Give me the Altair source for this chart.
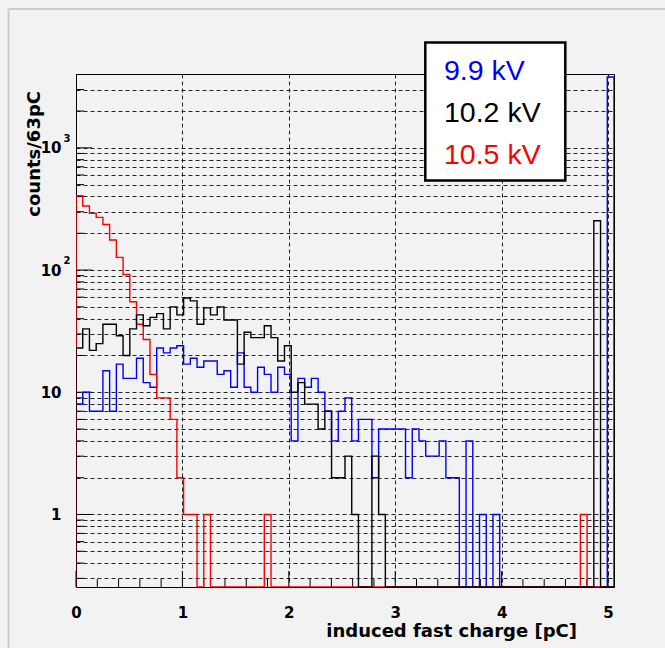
import altair as alt
import pandas as pd

# ---------------- data ----------------
BIN_WIDTH = 0.0632          # pC per bin ("counts/63pC")
N_BINS = 80
X_MAX = BIN_WIDTH * N_BINS
Y_MIN = 0.255
Y_MAX = 4020.0

series_labels = ["9.9 kV", "10.2 kV", "10.5 kV"]
series_colors = ["#0000ff", "#000000", "#ff0000"]

counts_9p9 = [8, 10, 7, 7, 15, 7, 17, 13, 13, 19,
              12, 11, 23, 21, 23, 24, 17, 19, 16, 18,
              18, 14, 15, 11, 21, 11, 10, 16, 14, 10,
              16, 14, 4, 13, 11, 13, 10, 7, 4, 7,
              9, 4, 6, 6, 2, 5, 5, 5, 5, 2,
              5, 4, 3, 3, 4, 2, 2, 0, 4, 0,
              1, 0, 1, 0, 0, 0, 0, 0, 0, 0,
              0, 0, 0, 0, 0, 0, 0, 0, 0, 3800]

counts_10p2 = [23, 33, 22, 25, 36, 36, 29, 20, 33, 43,
               35, 41, 44, 33, 50, 43, 59, 56, 36, 49,
               43, 50, 39, 39, 17, 31, 28, 28, 35, 28,
               18, 24, 10, 12, 8, 8, 5, 7, 2, 2,
               3, 1, 0, 0, 3, 1, 0, 0, 0, 0,
               0, 0, 0, 0, 0, 0, 0, 0, 0, 0,
               0, 0, 0, 0, 0, 0, 0, 0, 0, 0,
               0, 0, 0, 0, 0, 0, 0, 253, 0, 0]

counts_10p5 = [406, 334, 291, 270, 236, 176, 127, 92, 55, 36,
               27, 14, 9, 9, 6, 2, 1, 1, 0, 1,
               0, 0, 0, 0, 0, 0, 0, 0, 1, 0,
               0, 0, 0, 0, 0, 0, 0, 0, 0, 0,
               0, 0, 0, 0, 0, 0, 0, 0, 0, 0,
               0, 0, 0, 0, 0, 0, 0, 0, 0, 0,
               0, 0, 0, 0, 0, 0, 0, 0, 0, 0,
               0, 0, 0, 0, 0, 1, 0, 0, 0, 0]

x_tick_values = [0, 1, 2, 3, 4, 5]
x_minor_ticks = [0.2, 0.4, 0.6, 0.8, 1.2, 1.4, 1.6, 1.8, 2.2, 2.4, 2.6, 2.8,
                 3.2, 3.4, 3.6, 3.8, 4.2, 4.4, 4.6, 4.8]
y_grid_values = [0.3, 0.4, 0.5, 0.6, 0.7, 0.8, 0.9,
                 1, 2, 3, 4, 5, 6, 7, 8, 9,
                 10, 20, 30, 40, 50, 60, 70, 80, 90,
                 100, 200, 300, 400, 500, 600, 700, 800, 900,
                 1000, 2000, 3000]
y_major_values = [1, 10, 100, 1000]
y_superscripts = ["2", "3"]
y_superscript_at = [100, 1000]

x_title = "induced fast charge [pC]"
y_title = "counts/63pC"

W, H = 538, 513
AXIS_FONT = "DejaVu Sans"


def outline(counts):
    """ROOT-like histogram outline: (edge, count) step points."""
    xs, ys = [0.0], [Y_MIN]
    for k, c in enumerate(counts):
        v = c if c > 0 else Y_MIN
        xs += [k * BIN_WIDTH, (k + 1) * BIN_WIDTH]
        ys += [v, v]
    xs.append(N_BINS * BIN_WIDTH)
    ys.append(Y_MIN)
    return pd.DataFrame({"x": xs, "y": ys, "i": list(range(len(xs)))})


xscale = alt.Scale(domain=[0, X_MAX], nice=False, zero=False)
yscale = alt.Scale(type="log", domain=[Y_MIN, Y_MAX], nice=False)

x_axis = alt.Axis(values=x_tick_values, title=None, grid=True, gridDash=[4, 3],
                  gridColor="#000000", gridWidth=1, gridOpacity=0.85, ticks=False,
                  domain=False, labelFont=AXIS_FONT, labelFontWeight="bold",
                  labelFontSize=15, labelColor="#000000", labelPadding=30,
                  labelBaseline="alphabetic", labelFlush=False, labelOverlap=False)
y_axis = alt.Axis(values=y_grid_values, title=None, grid=True, gridDash=[4, 3],
                  gridColor="#000000", gridWidth=1, gridOpacity=0.85, ticks=False,
                  domain=False, labelFont=AXIS_FONT, labelFontWeight="bold",
                  labelFontSize=15, labelColor="#000000", labelPadding=15,
                  labelAlign="right", labelBaseline="middle", labelOverlap=False,
                  labelFlush=False, orient="left",
                  labelExpr="datum.value == 1 ? '1' : (datum.value == 10 || datum.value == 100 || datum.value == 1000) ? '10' : ''")

X = lambda f: alt.X(f, type="quantitative", scale=xscale, axis=x_axis)
Y = lambda f: alt.Y(f, type="quantitative", scale=yscale, axis=y_axis)

one = pd.DataFrame({"a": [0]})

# ticks drawn inside the frame (ROOT style)
xminor = alt.Chart(pd.DataFrame({"v": x_minor_ticks})).mark_rule(color="black").encode(
    x=X("v"), y=alt.value(H), y2=alt.value(H - 8))
xmajor = alt.Chart(pd.DataFrame({"v": x_tick_values})).mark_rule(color="black").encode(
    x=X("v"), y=alt.value(H), y2=alt.value(H - 16))
yminor_vals = [v for v in y_grid_values if v not in y_major_values]
yminor = alt.Chart(pd.DataFrame({"v": yminor_vals})).mark_rule(color="black").encode(
    y=Y("v"), x=alt.value(0), x2=alt.value(8))
ymajor = alt.Chart(pd.DataFrame({"v": y_major_values})).mark_rule(color="black").encode(
    y=Y("v"), x=alt.value(0), x2=alt.value(16))

sup = alt.Chart(pd.DataFrame({"v": y_superscript_at, "t": y_superscripts})).mark_text(
    align="left", baseline="alphabetic", dy=-6, font=AXIS_FONT, fontWeight="bold",
    fontSize=10, color="black").encode(y=Y("v"), x=alt.value(-12.5), text="t:N")

hist_layers = []
for counts, col in [(counts_9p9, series_colors[0]), (counts_10p5, series_colors[2]),
                    (counts_10p2, series_colors[1])]:
    hist_layers.append(
        alt.Chart(outline(counts)).mark_line(strokeWidth=1.4, clip=True, strokeJoin="miter")
        .encode(x=X("x"), y=Y("y"), order="i:Q", color=alt.value(col)))

# titles
ytitle = alt.Chart(one).mark_text(text=y_title, angle=270, align="right", baseline="alphabetic",
                                  font=AXIS_FONT, fontWeight="bold", fontSize=18,
                                  color="black").encode(x=alt.value(-36.5), y=alt.value(17))
xtitle = alt.Chart(one).mark_text(text=x_title, align="right", baseline="alphabetic",
                                  font=AXIS_FONT, fontWeight="bold", fontSize=18,
                                  color="black").encode(x=alt.value(501), y=alt.value(563))

# legend box
legbox = alt.Chart(one).mark_rect(fill="white", stroke="black", strokeWidth=2.5).encode(
    x=alt.value(349.3), x2=alt.value(489.3), y=alt.value(-31.4), y2=alt.value(106.6))
leg_layers = []
for row, (lab, col) in enumerate(zip(series_labels, series_colors)):
    leg_layers.append(
        alt.Chart(one).mark_text(text=lab, align="left", baseline="alphabetic",
                                 font="Liberation Sans", fontSize=28.5, color=col)
        .encode(x=alt.value(368), y=alt.value(5.5 + 42 * row)))

# pad border (light gray, top and left)
border_l = alt.Chart(one).mark_rule(color="#cccccc", strokeWidth=2).encode(
    x=alt.value(-67.5), y=alt.value(-65), y2=alt.value(H + 70))
border_t = alt.Chart(one).mark_rule(color="#cccccc", strokeWidth=2).encode(
    x=alt.value(-67.5), x2=alt.value(W + 60), y=alt.value(-65))

chart = alt.layer(
    border_l, border_t,
    xminor, xmajor, yminor, ymajor,
    *hist_layers,
    sup, ytitle, xtitle, legbox, *leg_layers,
).properties(
    width=W, height=H,
    autosize=alt.AutoSizeParams(type="none"),
    padding={"left": 76, "top": 74, "right": 665 - 76 - W, "bottom": 648 - 74 - H},
    background="#f2f2f2",
).configure_view(stroke="black", strokeWidth=1, fill="#f2f2f2")

chart.save("out.html", embed_options={"renderer": "svg", "actions": False})
